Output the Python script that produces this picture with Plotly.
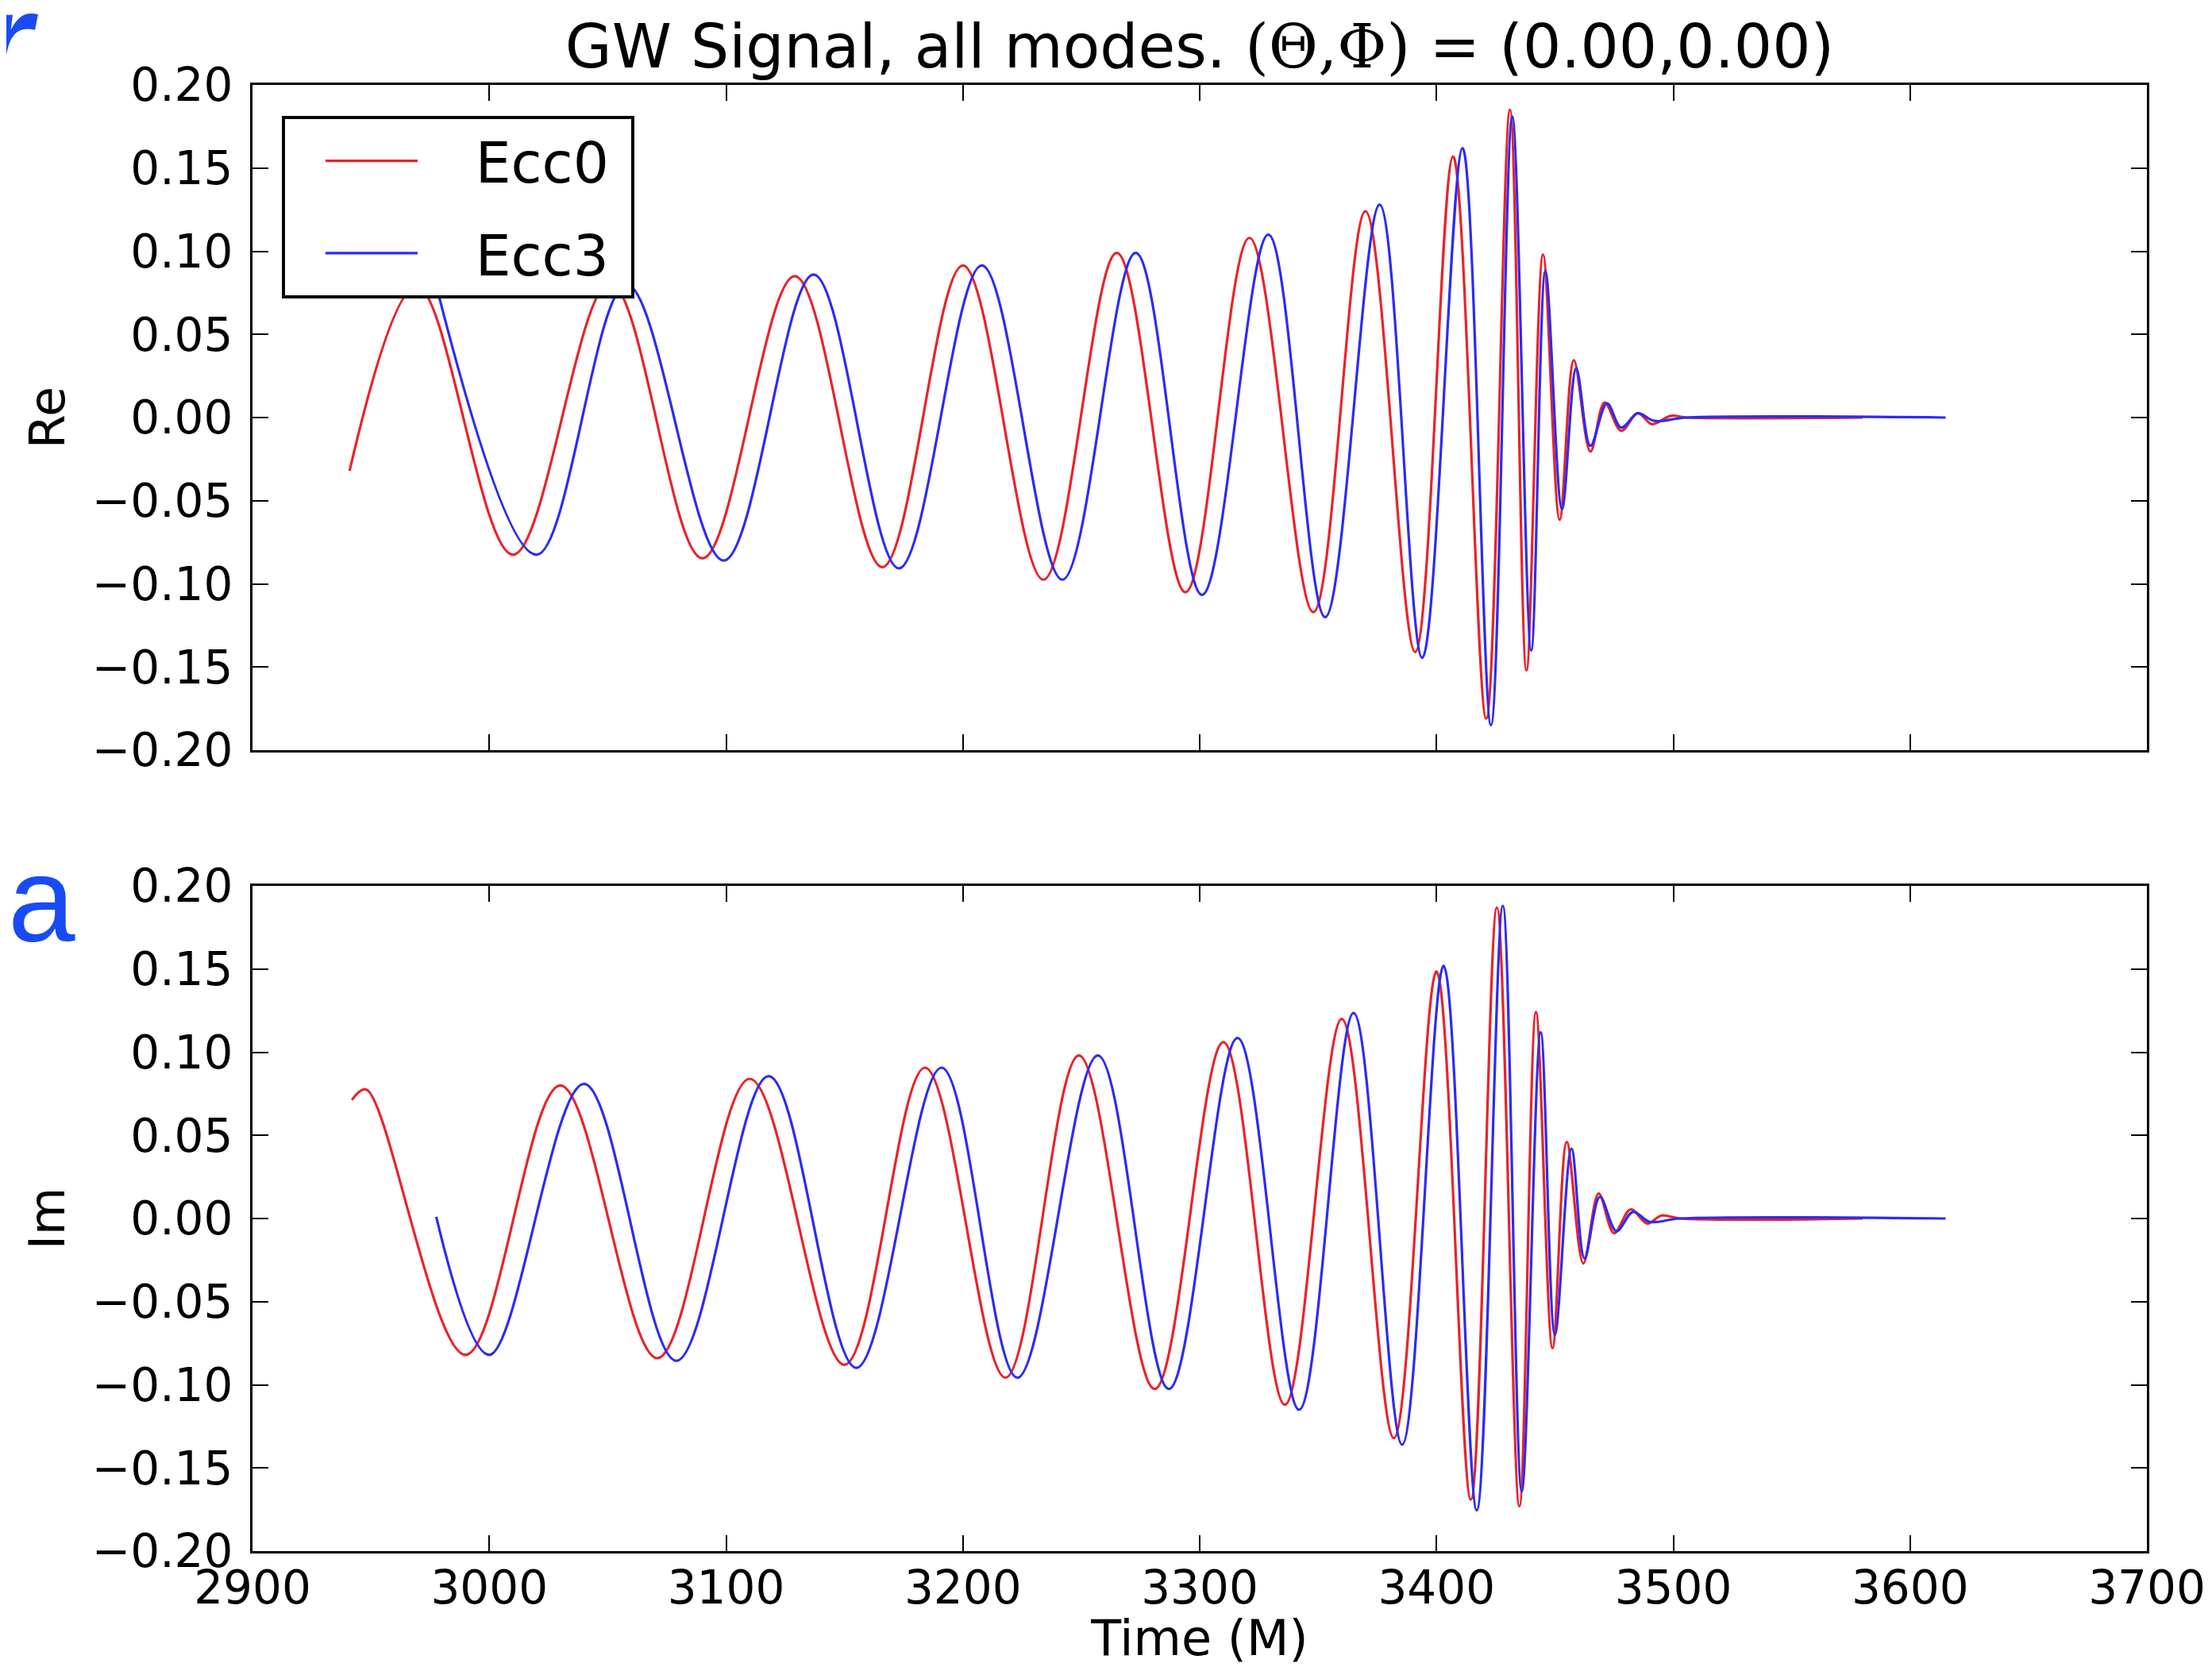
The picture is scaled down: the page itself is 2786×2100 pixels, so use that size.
import plotly.graph_objects as go

# ---------------- data ----------------
re_ecc0_t = [2941, 2969.5, 3010, 3051, 3090, 3129, 3166, 3200, 3234, 3265, 3294, 3321, 3348, 3370,
             3391, 3407, 3421, 3431, 3438, 3445, 3452, 3458, 3465, 3471, 3478, 3485, 3491, 3499, 3506, 3580]
re_ecc0_v = [-0.032, 0.079, -0.0825, 0.081, -0.0847, 0.085, -0.090, 0.0915, -0.0975, 0.099, -0.105, 0.108,
             -0.117, 0.124, -0.141, 0.157, -0.181, 0.185, -0.152, 0.098, -0.0615, 0.0344, -0.0205, 0.009,
             -0.008, 0.0027, -0.004, 0.001, 0.0, 0.0]

re_ecc3_t = [2977.5, 3020, 3058, 3099, 3137, 3173, 3208, 3242, 3273, 3301, 3329, 3353, 3376, 3394,
             3411, 3423, 3432, 3440, 3446, 3453, 3459, 3465, 3472, 3478, 3485, 3492, 3506, 3615]
re_ecc3_v = [0.080, -0.0825, 0.080, -0.086, 0.086, -0.0907, 0.0915, -0.0975, 0.099, -0.1066, 0.110,
             -0.120, 0.128, -0.1445, 0.162, -0.185, 0.181, -0.140, 0.088, -0.055, 0.0295, -0.017,
             0.0085, -0.006, 0.0025, -0.002, 0.0, 0.0]

im_ecc0_t = [2942, 2948, 2990, 3030, 3071, 3110, 3150, 3184, 3218, 3249, 3281, 3310, 3336, 3360,
             3382, 3400, 3414.5, 3425.5, 3435, 3442, 3449, 3455, 3462, 3468.5, 3475, 3482, 3489, 3495, 3503, 3580]
im_ecc0_v = [0.0713, 0.0776, -0.082, 0.080, -0.084, 0.084, -0.088, 0.0907, -0.0957, 0.098, -0.1025,
             0.106, -0.112, 0.120, -0.132, 0.1485, -0.169, 0.187, -0.173, 0.124, -0.078, 0.046, -0.027,
             0.015, -0.0088, 0.0055, -0.003, 0.0018, 0.0, 0.0]

im_ecc3_t = [2977.6, 3000, 3040, 3079, 3118, 3155, 3191, 3223, 3257, 3287, 3316, 3342, 3365, 3385.5,
             3403, 3417, 3428, 3436, 3444, 3450, 3457, 3462.5, 3469, 3476, 3483, 3490, 3503, 3615]
im_ecc3_v = [0.001, -0.082, 0.081, -0.0856, 0.0856, -0.0898, 0.0907, -0.0957, 0.098, -0.1025, 0.1085,
             -0.115, 0.1236, -0.136, 0.152, -0.1755, 0.188, -0.164, 0.112, -0.070, 0.042, -0.024,
             0.013, -0.0076, 0.004, -0.002, 0.0, 0.0]

series_names = ["Ecc0", "Ecc3"]
x_tickvals = [2900, 3000, 3100, 3200, 3300, 3400, 3500, 3600, 3700]
x_ticktext = ["2900", "3000", "3100", "3200", "3300", "3400", "3500", "3600", "3700"]
y_tickvals = [-0.20, -0.15, -0.10, -0.05, 0.00, 0.05, 0.10, 0.15, 0.20]
y_ticktext = ["\u22120.20", "\u22120.15", "\u22120.10", "\u22120.05", "0.00", "0.05", "0.10", "0.15", "0.20"]

# ---------------- layout geometry ----------------
# the page body has an 8 px margin, so the figure is drawn 8 px in from the window corner
OFF = 8
SW, SH = 2786, 2100                 # window size
W, H = SW - OFF, SH - OFF           # figure size
PLOT_L, PLOT_R = 318, 2704          # plot area in window pixels
PLOT_T, PLOT_B = 107, 1954
L, T = PLOT_L - OFF, PLOT_T - OFF
R, B = W - (PLOT_R - OFF), H - (PLOT_B - OFF)
PW, PH = W - L - R, H - T - B


def px(xs):
    """window x pixel -> paper x"""
    return (xs - OFF - L) / PW


def py(ys):
    """window y pixel -> paper y"""
    return (H - B - (ys - OFF)) / PH


RED = "#e8232b"
BLUE = "#2b2bf5"
FONT = "DejaVu Sans"
LW = 3.2
NB = "\u00a0"


def legend_label(s):
    # non-breaking spaces reproduce the wide gap between sample line and label
    return NB * 3 + s + NB


fig = go.Figure()
fig.add_trace(go.Scatter(x=re_ecc0_t, y=re_ecc0_v, mode="lines", name=legend_label(series_names[0]),
                         legendgroup="g0", line=dict(color=RED, width=LW, shape="spline", smoothing=1.0),
                         xaxis="x", yaxis="y"))
fig.add_trace(go.Scatter(x=re_ecc3_t, y=re_ecc3_v, mode="lines", name=legend_label(series_names[1]),
                         legendgroup="g1", line=dict(color=BLUE, width=LW, shape="spline", smoothing=1.0),
                         xaxis="x", yaxis="y"))
fig.add_trace(go.Scatter(x=im_ecc0_t, y=im_ecc0_v, mode="lines", name=series_names[0], showlegend=False,
                         legendgroup="g0", line=dict(color=RED, width=LW, shape="spline", smoothing=1.0),
                         xaxis="x2", yaxis="y2"))
fig.add_trace(go.Scatter(x=im_ecc3_t, y=im_ecc3_v, mode="lines", name=series_names[1], showlegend=False,
                         legendgroup="g1", line=dict(color=BLUE, width=LW, shape="spline", smoothing=1.0),
                         xaxis="x2", yaxis="y2"))

axis_common = dict(showline=True, linecolor="black", linewidth=3, mirror="ticks",
                   ticks="inside", ticklen=20, tickwidth=2, tickcolor="black", automargin=False,
                   showgrid=False, zeroline=False, tickfont=dict(family=FONT, size=58, color="black"))

top_dom = [py(945), py(107)]
bot_dom = [py(1954), py(1116)]

fig.update_layout(
    width=W, height=H,
    margin=dict(l=L, r=R, t=T, b=B, autoexpand=False),
    paper_bgcolor="white", plot_bgcolor="white",
    font=dict(family=FONT, color="black"),
    title=dict(text="GW Signal, all modes. <span style='font-family:DejaVu Serif'>(\u0398,\u03a6)</span> = (0.00,0.00)",
               font=dict(family=FONT, size=76, color="black"),
               x=0.5, xref="paper", xanchor="center",
               y=1 - (58 - OFF) / H, yref="container", yanchor="middle"),
    xaxis=dict(domain=[0, 1], range=[2900, 3700], anchor="y", tickvals=x_tickvals, ticktext=x_ticktext,
               showticklabels=False, **axis_common),
    yaxis=dict(domain=top_dom, range=[-0.2, 0.2], anchor="x", tickvals=y_tickvals, ticktext=y_ticktext,
               ticklabelstandoff=10,
               title=dict(text="Re", font=dict(family=FONT, size=62, color="black"), standoff=14),
               **axis_common),
    xaxis2=dict(domain=[0, 1], range=[2900, 3700], anchor="y2", tickvals=x_tickvals, ticktext=x_ticktext,
                ticklabelstandoff=-7,
                title=dict(text="Time (M)", font=dict(family=FONT, size=62, color="black"), standoff=18),
                **axis_common),
    yaxis2=dict(domain=bot_dom, range=[-0.2, 0.2], anchor="x2", tickvals=y_tickvals, ticktext=y_ticktext,
                ticklabelstandoff=10,
                title=dict(text="Im", font=dict(family=FONT, size=62, color="black"), standoff=14),
                **axis_common),
    legend=dict(x=px(355), y=py(146), xanchor="left", yanchor="top",
                bgcolor="white", bordercolor="black", borderwidth=4,
                font=dict(family=FONT, size=71, color="black"),
                itemwidth=116, tracegroupgap=21, indentation=46),
    showlegend=True,
)

# partial slide letters at the left edge
fig.add_annotation(text="r", xref="paper", yref="paper", x=px(50), y=py(50), xanchor="right", yanchor="middle",
                   showarrow=False, font=dict(family="Liberation Sans", size=170, color="#194bf5",
                                              weight="bold", style="italic"))
fig.add_annotation(text="a", xref="paper", yref="paper", x=px(OFF), y=py(1133), xanchor="left", yanchor="middle",
                   showarrow=False, font=dict(family="Liberation Sans", size=152, color="#194bf5"))

fig.write_html("out.html")
